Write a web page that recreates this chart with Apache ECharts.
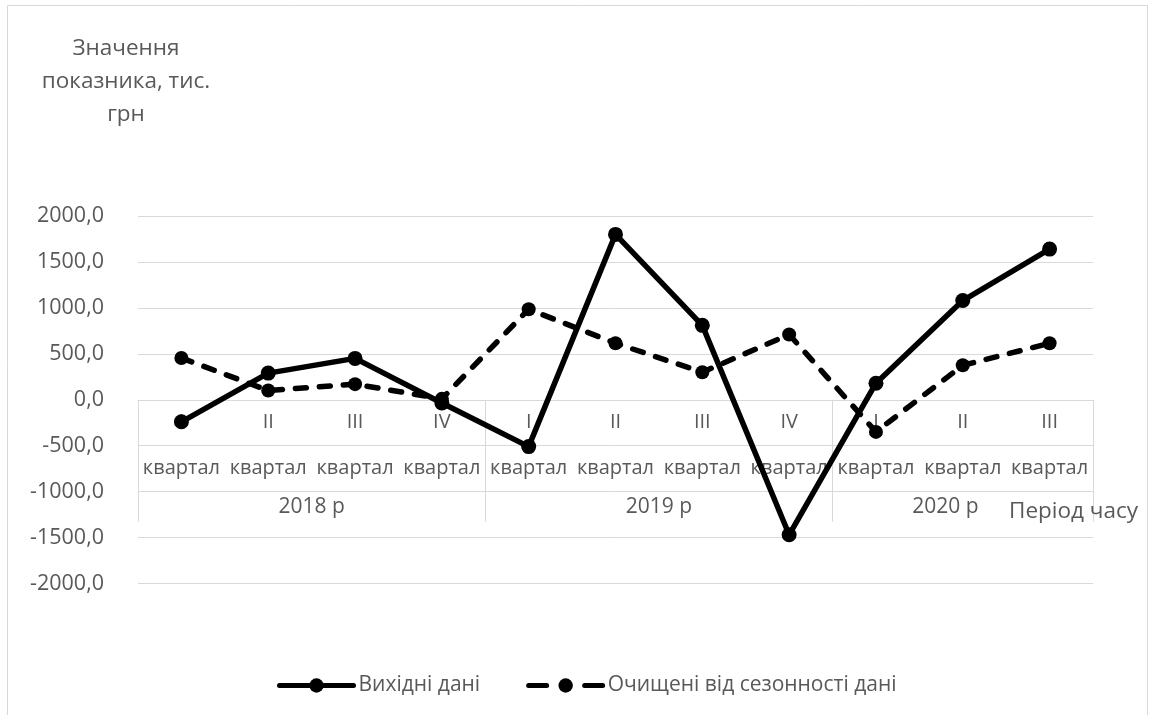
<!DOCTYPE html>
<html>
<head>
<meta charset="utf-8">
<script src="https://cdn.jsdelivr.net/npm/echarts@6/dist/echarts.min.js"></script>
<style>
html,body{margin:0;padding:0;background:#fff;}
#chart{width:1151px;height:715px;}
</style>
</head>
<body>
<div id="chart"></div>
<script>
// ---- data ----
const quarters = ['I', 'II', 'III', 'IV', 'I', 'II', 'III', 'IV', 'I', 'II', 'III'];
const quarterWord = 'квартал';
const years = ['2018 р', '2019 р', '2020 р'];
const yearCounts = [4, 4, 3];
const seriesNames = ['Вихідні дані', 'Очищені від сезонності дані'];
const rawValues = [-240, 290, 450, -35, -510, 1800, 810, -1470, 180, 1080, 1640];
const deseasonValues = [455, 100, 170, 10, 985, 615, 300, 710, -350, 375, 615];
const yTicks = { min: -2000, max: 2000, interval: 500 };
const yTitle = 'Значення\nпоказника, тис.\nгрн';
const xTitle = 'Період часу';

// ---- layout ----
const FONT = 'Open Sans';
const TXT = '#595959';
const GRIDC = '#d9d9d9';
const grid = { left: 138, right: 58, top: 216, bottom: 131.5 };
const gridH = 715 - grid.top - grid.bottom;
const zeroOffset = -gridH * (0 - yTicks.min) / (yTicks.max - yTicks.min);

const categories = quarters.map(q => q + '\n' + quarterWord);
const boundaries = [0];
yearCounts.forEach(c => boundaries.push(boundaries[boundaries.length - 1] + c));
const yearCenters = yearCounts.map((c, i) => boundaries[i] + c / 2);
yearCenters[2] -= 0.2; // label nudge like the reference
const total = quarters.length;

const chart = echarts.init(document.getElementById('chart'), null, { renderer: 'canvas' });
chart.setOption({
  backgroundColor: '#fff',
  animation: false,
  textStyle: { fontFamily: FONT },
  graphic: [{
    type: 'rect', shape: { x: 7.5, y: 5.5, width: 1140, height: 760 },
    style: { fill: 'none', stroke: GRIDC, lineWidth: 1 }, z: -10, silent: true
  }],
  title: [
    { text: yTitle, left: 126, top: 32.5, textAlign: 'center', padding: 0,
      textStyle: { fontFamily: FONT, fontSize: 22.5, fontWeight: 'normal', color: TXT, lineHeight: 33, align: 'center' } },
    { text: xTitle, left: 1009, top: 500, padding: 0,
      textStyle: { fontFamily: FONT, fontSize: 22.5, fontWeight: 'normal', color: TXT } }
  ],
  legend: {
    left: 272, top: 670, itemWidth: 74, itemHeight: 18, itemGap: 46,
    textStyle: { fontFamily: FONT, fontSize: 21, color: TXT },
    data: [
      { name: seriesNames[0], lineStyle: { width: 5, cap: 'round' } },
      { name: seriesNames[1], lineStyle: { width: 5, type: [18, 38], cap: 'round' } }
    ]
  },
  grid: Object.assign({ outerBoundsMode: 'none', containLabel: false }, grid),
  xAxis: [{
    type: 'category', data: categories, boundaryGap: true,
    position: 'bottom', offset: zeroOffset,
    axisLine: { onZero: false, lineStyle: { color: GRIDC, width: 1 } },
    axisTick: { show: false },
    axisLabel: { interval: 0, margin: 0, lineHeight: 46, fontSize: 20, color: TXT, fontFamily: FONT }
  }, {
    type: 'value', min: 0, max: total, position: 'bottom', offset: zeroOffset,
    axisLine: { show: false, onZero: false },
    splitLine: { show: false },
    axisTick: { show: true, customValues: boundaries, length: 122, lineStyle: { color: GRIDC, width: 1 } },
    axisLabel: {
      customValues: yearCenters, margin: 97, fontSize: 21, color: TXT, fontFamily: FONT,
      formatter: v => { const i = yearCenters.findIndex(c => Math.abs(c - v) < 1e-6); return i >= 0 ? years[i] : ''; }
    }
  }],
  yAxis: {
    type: 'value', min: yTicks.min, max: yTicks.max, interval: yTicks.interval,
    axisLine: { show: false }, axisTick: { show: false },
    splitLine: { lineStyle: { color: GRIDC, width: 1 } },
    axisLabel: { margin: 34, fontSize: 21.5, color: TXT, fontFamily: FONT,
      formatter: v => v.toFixed(1).replace('.', ',') }
  },
  series: [{
    name: seriesNames[0], type: 'line', data: rawValues, xAxisIndex: 0,
    symbol: 'circle', symbolSize: 15,
    lineStyle: { color: '#000', width: 5.5 },
    itemStyle: { color: '#000' }, z: 3
  }, {
    name: seriesNames[1], type: 'line', data: deseasonValues, xAxisIndex: 0,
    symbol: 'circle', symbolSize: 14,
    lineStyle: { color: '#000', width: 5.5, type: [11, 13], cap: 'round' },
    itemStyle: { color: '#000' }, z: 3
  }]
});
</script>
</body>
</html>
